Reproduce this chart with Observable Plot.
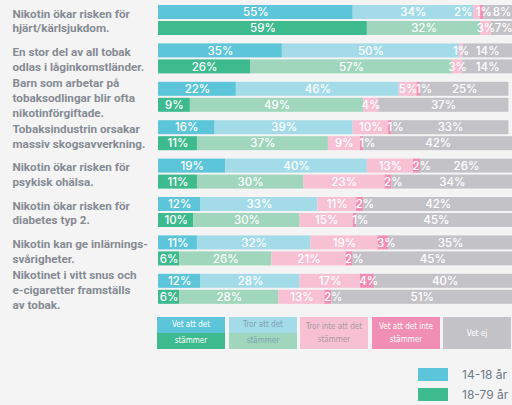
<!DOCTYPE html>
<html><head><meta charset="utf-8">
<script src="https://cdn.jsdelivr.net/npm/d3@7"></script>
<script src="https://cdn.jsdelivr.net/npm/@observablehq/plot@0.6"></script>
<style>
html,body{margin:0;padding:0;background:#f4f4f4;}
body{width:512px;height:405px;overflow:hidden;position:relative;font-family:Inter,sans-serif;}
#chart{position:absolute;left:0;top:0;}
.box{position:absolute;top:317px;height:32px;width:68px;font-family:"DejaVu Sans Condensed","DejaVu Sans",sans-serif;font-stretch:condensed;font-size:8px;text-align:center;color:#fff;}
.box .half{height:16px;line-height:16px;}
.box .full{height:32px;display:flex;align-items:center;justify-content:center;line-height:13px;}
.age{position:absolute;left:418px;width:30px;height:13px;}
.agetxt{position:absolute;left:462px;font-size:12px;color:#6f7884;font-family:Inter,sans-serif;white-space:nowrap;line-height:13px;}
</style></head><body>
<div id="chart"></div>
<div id="legend"></div>
<script>
const questions = [
  "Nikotin ökar risken för\nhjärt/kärlsjukdom.",
  "En stor del av all tobak\nodlas i låginkomstländer.",
  "Barn som arbetar på\ntobaksodlingar blir ofta\nnikotinförgiftade.",
  "Tobaksindustrin orsakar\nmassiv skogsavverkning.",
  "Nikotin ökar risken för\npsykisk ohälsa.",
  "Nikotin ökar risken för\ndiabetes typ 2.",
  "Nikotin kan ge inlärnings-\nsvårigheter.",
  "Nikotinet i vitt snus och\ne-cigaretter framställs\nav tobak."
];
const categories = ["Vet att det stämmer","Tror att det stämmer","Tror inte att det stämmer","Vet att det inte stämmer","Vet ej"];
const ages = ["14-18 år","18-79 år"];
const values1418 = [
  [55,34,2,1,8],
  [35,50,1,0,14],
  [22,46,5,1,25],
  [16,39,10,1,33],
  [19,40,13,2,26],
  [12,33,11,2,42],
  [11,32,19,3,35],
  [12,28,17,4,40]
];
const values1879 = [
  [59,32,3,0,7],
  [26,57,3,0,14],
  [9,49,4,0,37],
  [11,37,9,1,42],
  [11,30,23,2,34],
  [10,30,15,1,45],
  [6,26,21,2,45],
  [6,28,13,2,51]
];
const colors1418 = ["#5cc5da","#a4dbe8","#f7c1d3","#f08fb3","#c3c3c7"];
const colors1879 = ["#3dba8e","#9fd6bc","#f7c1d3","#f08fb3","#c3c3c7"];

const data = [];
questions.forEach((q, qi) => {
  [values1418, values1879].forEach((vals, ai) => {
    const row = vals[qi];
    row.forEach((v, ci) => {
      data.push({q, age: ages[ai], cat: ci, value: v, next: row[ci + 1] ?? 0, prev: row[ci - 1] ?? 0,
        color: (ai === 0 ? colors1418 : colors1879)[ci]});
    });
  });
});

const lbl = d => d.value + "%";
// a small "tror inte" segment followed by a "vet att det inte" segment: label sits before it
const isSqueezed = d => d.cat === 2 && d.value <= 2 && d.next > 0;
// "vet att det inte" label right after such a squeezed segment
const afterSqueezed = d => d.cat === 3 && d.prev > 0 && d.prev <= 2;
// a narrow "vet ej" segment after a labelled "vet att det inte": label sits at the bar's end
const isRightTight = d => d.cat === 4 && d.value < 10 && d.prev > 0;
const txt = {fill: "white", fontSize: 11.5, fontWeight: 500};
const chart = Plot.plot({
  width: 512,
  height: 316,
  marginLeft: 158,
  marginRight: 0,
  marginTop: 5,
  marginBottom: 12.2,
  style: {background: "transparent", fontFamily: "Inter, sans-serif"},
  x: {domain: [0, 100], axis: null},
  y: {domain: ages, axis: null, paddingInner: 0.125, paddingOuter: 0, round: false},
  fy: {domain: questions, axis: null, paddingInner: 0.21875, paddingOuter: 0, round: false},
  color: {type: "identity"},
  marks: [
    Plot.barX(data, Plot.stackX({x: "value", y: "age", fy: "q", fill: "color", order: null})),
    Plot.text(data, Plot.stackX({x: "value", y: "age", fy: "q", order: null,
      text: d => (d.value > 0 && d.cat !== 3 && !isSqueezed(d) && !isRightTight(d)) ? lbl(d) : "", ...txt})),
    Plot.text(data, Plot.stackX1({x: "value", y: "age", fy: "q", order: null,
      text: d => (d.value > 0 && isSqueezed(d)) ? lbl(d) : "",
      textAnchor: "end", dx: -1, ...txt})),
    Plot.text(data, Plot.stackX1({x: "value", y: "age", fy: "q", order: null,
      text: d => (d.value > 0 && d.cat === 3 && !afterSqueezed(d)) ? lbl(d) : "",
      textAnchor: "start", dx: -1, ...txt})),
    Plot.text(data, Plot.stackX1({x: "value", y: "age", fy: "q", order: null,
      text: d => (d.value > 0 && afterSqueezed(d)) ? lbl(d) : "",
      textAnchor: "start", dx: -5, ...txt})),
    Plot.text(data, Plot.stackX2({x: "value", y: "age", fy: "q", order: null,
      text: d => (d.value > 0 && isRightTight(d)) ? lbl(d) : "",
      textAnchor: "end", dx: -1, ...txt})),
    Plot.text(questions, {fy: d => d, text: d => d, frameAnchor: "left", dx: -146, textAnchor: "start",
      lineHeight: 1.25, fontSize: 11.7, fontWeight: 700, fill: "#868b93", fontFamily: "Roboto, sans-serif"})
  ]
});
document.getElementById("chart").appendChild(chart);

// legend
const legend = document.getElementById("legend");
const boxLefts = [157, 229, 300, 372, 443];
const boxTexts = [["Vet att det","stämmer"],["Tror att det","stämmer"],["Tror inte att det","stämmer"],["Vet att det inte","stämmer"],["Vet ej"]];
const boxTextColors = ["#ffffff","#7fa2b0","#a89aa2","#ffffff","#ffffff"];
categories.forEach((c, i) => {
  const b = document.createElement("div");
  b.className = "box";
  b.style.left = boxLefts[i] + "px";
  b.style.color = boxTextColors[i];
  b.title = c;
  if (colors1418[i] !== colors1879[i]) {
    b.innerHTML = `<div class="half" style="background:${colors1418[i]}">${boxTexts[i][0]}</div><div class="half" style="background:${colors1879[i]}">${boxTexts[i][1]}</div>`;
  } else {
    b.innerHTML = `<div class="full" style="background:${colors1418[i]}">${boxTexts[i].join("<br>")}</div>`;
  }
  legend.appendChild(b);
});
[colors1418[0], colors1879[0]].forEach((col, i) => {
  const s = document.createElement("div");
  s.className = "age";
  s.style.top = (368 + i * 20) + "px";
  s.style.background = col;
  legend.appendChild(s);
  const t = document.createElement("div");
  t.className = "agetxt";
  t.style.top = (368 + i * 20) + "px";
  t.textContent = ages[i];
  legend.appendChild(t);
});
</script>
</body></html>
